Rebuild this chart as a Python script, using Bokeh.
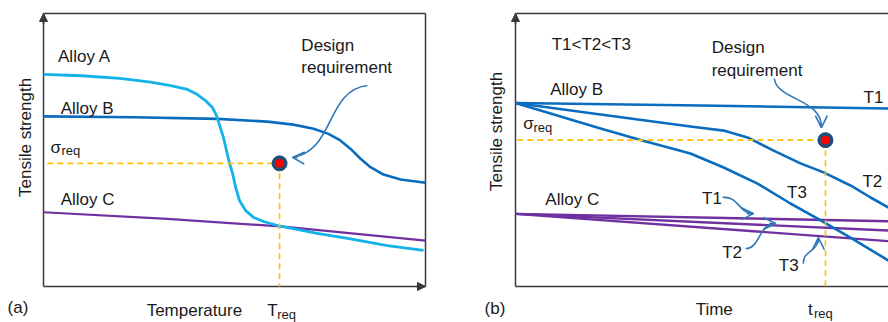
from math import pi

from bokeh.embed import file_html
from bokeh.layouts import row
from bokeh.models import Arrow, Label, NormalHead, OpenHead, Range1d
from bokeh.plotting import figure
from bokeh.resources import INLINE

# ---------------------------------------------------------------------------
# (a) tensile strength against temperature (arbitrary units, 0-100)
temp_a = [0, 10, 20, 28, 33, 37.7, 40.3, 42.4, 44.2, 45.3, 46.1, 47.1, 47.9,
          48.7, 49.5, 50.3, 51.3, 52.9, 55.0, 57.6, 61.3, 66, 72, 80, 90, 99.5]
strength_a = [77.7, 77.2, 76.2, 74.9, 73.7, 72.2, 70.3, 68.1, 65.6, 62.6, 59.0,
              54.6, 49.8, 45.1, 41.4, 36.3, 31.5, 27.8, 25.3, 23.8, 22.3, 21.0,
              19.4, 17.5, 15.0, 13.2]

temp_b = [0, 23.6, 45.5, 58.6, 65.4, 70.7, 74.6, 77.7, 80.4, 83.0, 85.6, 89.0, 93.5, 100]
strength_b = [62.3, 62.0, 61.4, 60.4, 59.3, 57.8, 55.9, 53.5, 50.4, 46.8, 43.7, 41.0, 39.2, 38.0]

temp_c = [0, 32.4, 62.0, 100]
strength_c = [27.2, 24.8, 22.0, 16.8]

t_req_a = 61.8
sigma_req_a = 45.1

# (b) tensile strength against time at three temperatures
time_b_t1 = [0, 49.6, 100]
strength_b_t1 = [67.2, 66.3, 65.2]

time_b_t2 = [0, 22.8, 46.9, 55.8, 62.2, 69.2, 76.4, 82.6, 89.8, 95.2, 100]
strength_b_t2 = [67.2, 63.0, 58.6, 57.1, 54.6, 49.8, 45.1, 41.8, 37.0, 32.6, 28.9]

time_b_t3 = [0, 22.8, 33.5, 46.9, 55.8, 64.9, 73.7, 81.0, 89.8, 100]
strength_b_t3 = [67.2, 57.9, 53.7, 48.7, 43.6, 37.7, 30.4, 24.9, 17.9, 9.5]

time_c = [0, 100]
strength_c_t1 = [26.6, 23.9]
strength_c_t2 = [26.6, 20.5]
strength_c_t3 = [26.6, 16.6]

t_req_b = 83.1
sigma_req_b = 53.6

# ---------------------------------------------------------------------------
FONT = "Liberation Sans"
INK = "#1a1a1a"
AXIS = "#3a3a3a"
CYAN = "#12b2ea"
BLUE = "#0a6cbf"
PURPLE = "#7030a0"
DASH = "#ffc000"
POINTER = "#2e78b8"
DOT_EDGE = "#1f4e79"
DOT_FILL = "#ff0000"

# labels are given by their baseline; the svg text sits a little low, so lift it
LIFT = 2.4


def panel(width, x_range):
    # the frame fills the whole canvas so that titles outside the 0-100 box are not clipped
    p = figure(width=width, height=322, output_backend="svg", toolbar_location=None,
               x_range=Range1d(*x_range), y_range=Range1d(-13.19, 104.76),
               x_axis_location=None, y_axis_location=None,
               min_border=0, min_border_left=0, min_border_right=0,
               min_border_top=0, min_border_bottom=0)
    p.grid.visible = False
    p.outline_line_color = None
    p.background_fill_color = "white"
    p.border_fill_color = "white"
    return p


def text(p, x, y, s, size="17px"):
    p.add_layout(Label(x=x, y=y + LIFT, text=s, text_font=FONT, text_font_size=size,
                       text_color=INK, text_baseline="alphabetic"))


def vtext(p, x, y, s, size="17px"):
    p.add_layout(Label(x=x, y=y, text=s, text_font=FONT, text_font_size=size,
                       text_color=INK, angle=pi / 2, text_align="center",
                       text_baseline="middle"))


def frame(p, x0, y0, x1, y1):
    p.segment(x0=x0, y0=y0, x1=x1, y1=y1, line_color=AXIS, line_width=1.5)


def axis_arrow(p, x0, y0, x1, y1):
    p.add_layout(Arrow(end=NormalHead(size=8, fill_color=AXIS, line_color=AXIS),
                       x_start=x0, y_start=y0, x_end=x1, y_end=y1,
                       line_color=AXIS, line_width=1.5))


def pointer(p, x0, y0, cx0, cy0, cx1, cy1, x1, y1, hx, hy):
    p.bezier(x0=x0, y0=y0, cx0=cx0, cy0=cy0, cx1=cx1, cy1=cy1, x1=x1, y1=y1,
             line_color=POINTER, line_width=1.6)
    p.add_layout(Arrow(end=OpenHead(size=12, line_color=POINTER, line_width=1.6),
                       x_start=hx, y_start=hy, x_end=x1, y_end=y1,
                       line_color=POINTER, line_width=1.6))


def requirement(p, t_req, s_req, x_from):
    p.line([x_from, t_req], [s_req, s_req], line_color=DASH, line_width=1.6, line_dash="6 4")
    p.line([t_req, t_req], [s_req, 0], line_color=DASH, line_width=1.6, line_dash="6 4")
    p.scatter([t_req], [s_req], size=15, fill_color=DOT_EDGE, line_color=DOT_EDGE)
    p.scatter([t_req], [s_req], size=8, fill_color=DOT_FILL, line_color=DOT_FILL)


# ---------------------------------------------------------------------------
# (a)
pa = panel(448, (-11.26, 106.02))
frame(pa, [0, 0, 0, 100], [0, 100, 0, 0], [100, 100, 0, 100], [0, 100, 100, 100])
axis_arrow(pa, 0, 96, 0, 100)
axis_arrow(pa, 97.5, 0, 100, 0)

pa.line(temp_c, strength_c, line_color=PURPLE, line_width=2.2)
pa.line(temp_b, strength_b, line_color=BLUE, line_width=2.6, line_join="round")
pa.line(temp_a, strength_a, line_color=CYAN, line_width=2.8, line_join="round")
requirement(pa, t_req_a, sigma_req_a, 1.0)
pointer(pa, 84.8, 73.6, 73.8, 71.8, 76.4, 49.8, 65.2, 47.3, 66.5, 47.2)

text(pa, 3.8, 81.7, "Alloy A")
text(pa, 4.5, 62.8, "Alloy B")
text(pa, 4.5, 29.3, "Alloy C")
text(pa, 1.8, sigma_req_a + 3.5, "σ")
text(pa, 4.7, sigma_req_a + 2.4, "req", size="13px")
text(pa, 67.5, 85.7, "Design")
text(pa, 67.5, 77.7, "requirement")
text(pa, 27.0, -11.2, "Temperature")
text(pa, t_req_a - 3.2, -11.2, "T")
text(pa, t_req_a - 0.6, -12.5, "req", size="13px")
text(pa, -9.4, -10.0, "(a)")
vtext(pa, -4.7, 54.6, "Tensile strength")

# (b)
pb = panel(440, (-17.96, 100.0))
frame(pb, [0, 0, 0], [0, 100, 0], [100, 100, 0], [0, 100, 100])
axis_arrow(pb, 0, 96, 0, 100)

pb.line(time_c, strength_c_t1, line_color=PURPLE, line_width=2.4)
pb.line(time_c, strength_c_t2, line_color=PURPLE, line_width=2.4)
pb.line(time_c, strength_c_t3, line_color=PURPLE, line_width=2.4)
pb.line(time_b_t1, strength_b_t1, line_color=BLUE, line_width=2.6)
pb.line(time_b_t2, strength_b_t2, line_color=BLUE, line_width=2.6, line_join="round")
pb.line(time_b_t3, strength_b_t3, line_color=BLUE, line_width=2.6, line_join="round")
requirement(pb, t_req_b, sigma_req_b, 0.5)

pointer(pb, 69.4, 76.2, 70.0, 68.1, 82.3, 68.9, 82.0, 58.2, 82.0, 60.0)
pointer(pb, 55.5, 32.6, 59.8, 33.3, 59.8, 26.7, 63.8, 26.7, 62.0, 26.7)
pointer(pb, 61.7, 13.9, 65.7, 13.9, 65.1, 23.1, 69.7, 23.1, 68.0, 23.1)
pointer(pb, 77.2, 8.4, 76.9, 13.2, 81.2, 12.5, 81.2, 17.9, 81.2, 16.0)

text(pb, 9.7, 86.1, "T1<T2<T3")
text(pb, 52.6, 85.2, "Design")
text(pb, 52.6, 76.9, "requirement")
text(pb, 9.3, 69.6, "Alloy B")
text(pb, 8.0, 29.3, "Alloy C")
text(pb, 2.1, sigma_req_b + 3.6, "σ")
text(pb, 4.8, sigma_req_b + 2.3, "req", size="13px")
text(pb, 93.3, 66.7, "T1")
text(pb, 93.0, 36.1, "T2")
text(pb, 72.8, 31.9, "T3")
text(pb, 50.0, 30.0, "T1")
text(pb, 55.4, 10.1, "T2")
text(pb, 70.6, 5.2, "T3")
text(pb, 48.3, -11.0, "Time")
text(pb, t_req_b - 4.7, -11.0, "t")
text(pb, t_req_b - 3.1, -12.2, "req", size="13px")
text(pb, -8.3, -10.6, "(b)")
vtext(pb, -5.1, 56.8, "Tensile strength")

layout = row(pa, pb)
open("out.html", "w").write(file_html(layout, INLINE))
